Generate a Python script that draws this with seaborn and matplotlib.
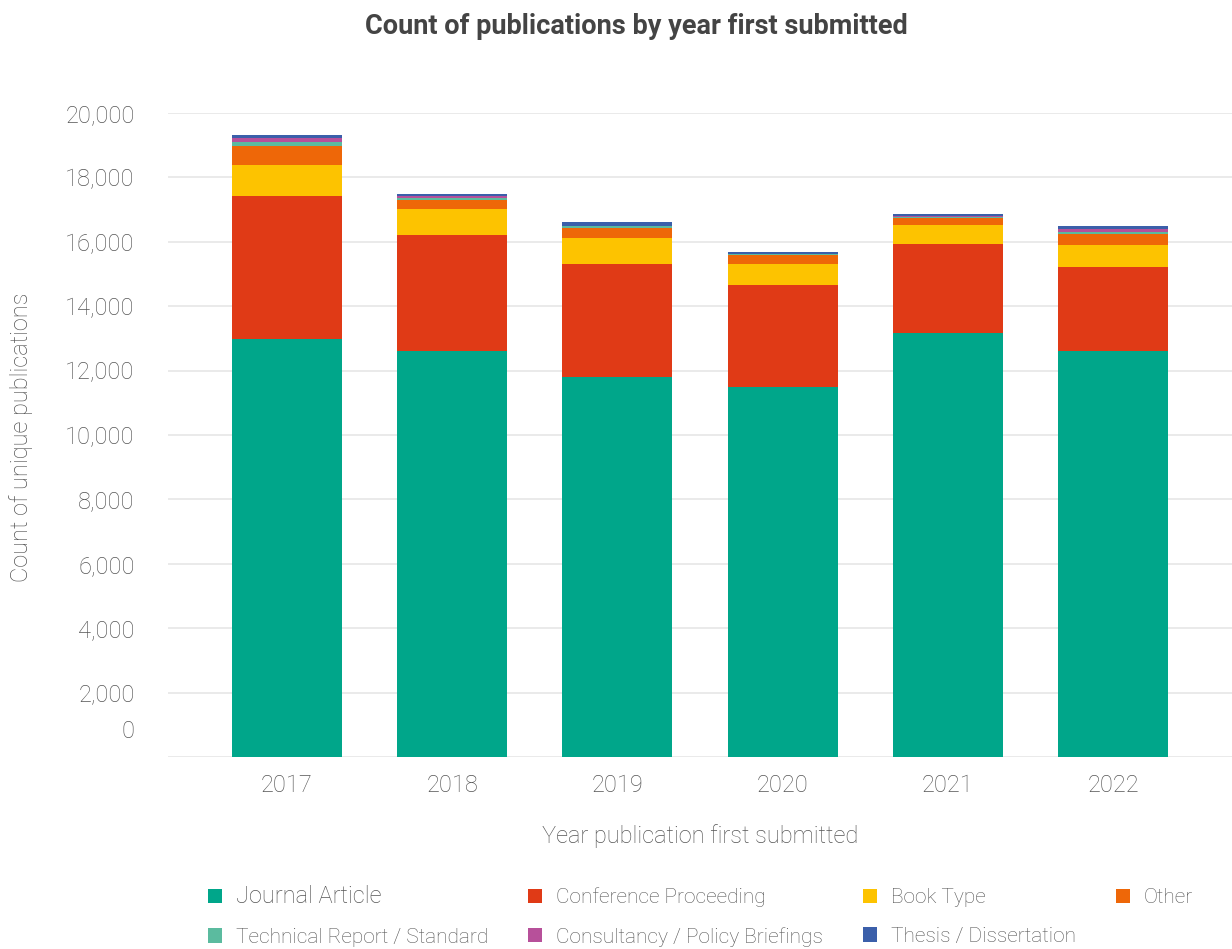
import numpy as np
import pandas as pd
import matplotlib
matplotlib.use("Agg")
import matplotlib.pyplot as plt
import matplotlib.transforms as mtransforms
from matplotlib.patches import Patch
import seaborn as sns

years = ["2017", "2018", "2019", "2020", "2021", "2022"]
journal = [12980, 12610, 11800, 11490, 13170, 12610]
conference = [4440, 3600, 3510, 3170, 2760, 2610]
book = [960, 810, 810, 650, 590, 680]
other = [590, 280, 310, 280, 220, 340]
technical = [125, 60, 50, 30, 30, 60]
consultancy = [125, 60, 20, 10, 30, 95]
thesis = [95, 60, 115, 60, 60, 95]

series_names = ["Journal Article", "Conference Proceeding", "Book Type", "Other",
                "Technical Report / Standard", "Consultancy / Policy Briefings",
                "Thesis / Dissertation"]
series_values = [journal, conference, book, other, technical, consultancy, thesis]
colors = ["#00A68A", "#E03A16", "#FDC300", "#EE6708", "#5BBB9F", "#B7509A", "#3B5FAA"]

yticks = [0, 2000, 4000, 6000, 8000, 10000, 12000, 14000, 16000, 18000, 20000]

sns.set_theme(style="white")
plt.rcParams["font.family"] = ["Roboto", "DejaVu Sans"]
text_color = "#555555"
fs = 17

fig = plt.figure(figsize=(12.32, 9.49), dpi=100)
ax = fig.add_axes([168 / 1232, 1 - 757 / 949, 1 - 168 / 1232, (757 - 113) / 949])

cum = np.cumsum(np.array(series_values), axis=0)
for i in range(len(series_names) - 1, -1, -1):
    df = pd.DataFrame({"year": years, "value": cum[i]})
    sns.barplot(data=df, x="year", y="value", color=colors[i], width=0.667,
                saturation=1, linewidth=0, ax=ax, zorder=3)

ax.set_xlim(-0.72, 5.72)
ax.set_ylim(0, 20000)
ax.set_yticks(yticks)
ax.set_yticklabels([f"{v:,}" for v in yticks])
ax.grid(axis="y", color="#E6E6E6", linewidth=1.2, zorder=0)
ax.set_axisbelow(True)
for s in ax.spines.values():
    s.set_visible(False)
ax.tick_params(axis="y", length=0, pad=24, labelsize=fs, labelcolor=text_color)
ax.tick_params(axis="x", length=0, pad=12, labelsize=fs, labelcolor=text_color)
for lab in ax.get_yticklabels():
    lab.set_fontweight("light")
for lab in ax.get_xticklabels():
    lab.set_fontweight("light")
# "0" label sits above the baseline in the reference
zero_lab = ax.get_yticklabels()[0]
zero_lab.set_transform(zero_lab.get_transform() +
                       mtransforms.ScaledTranslation(0, 0.28, fig.dpi_scale_trans))

ax.set_xlabel("Year publication first submitted", fontsize=fs, color=text_color,
              fontweight="light", labelpad=20)
ax.set_ylabel("Count of unique publications", fontsize=fs, color=text_color,
              fontweight="light")
ax.yaxis.set_label_coords(-0.127, 0.497)

fig.text(636 / 1232, 1 - 27 / 949, "Count of publications by year first submitted",
         ha="center", va="center", fontsize=19.5, fontweight="bold", color="#444444")

handles = [Patch(facecolor=c, edgecolor="none") for c in colors]
order = [0, 4, 1, 5, 2, 6, 3]
leg = fig.legend([handles[i] for i in order], [series_names[i] for i in order],
                 ncol=4, loc="center left", bbox_to_anchor=(208 / 1232, 1 - 916 / 949),
                 frameon=False, fontsize=15, handlelength=0.67, handleheight=0.67,
                 handletextpad=0.67, columnspacing=1.92, labelspacing=0.95,
                 borderaxespad=0, borderpad=0)
for t in leg.get_texts():
    t.set_color(text_color)
    t.set_fontweight("light")
    if t.get_text() == "Journal Article":
        t.set_fontsize(fs)

fig.savefig("out.png", dpi=100)
